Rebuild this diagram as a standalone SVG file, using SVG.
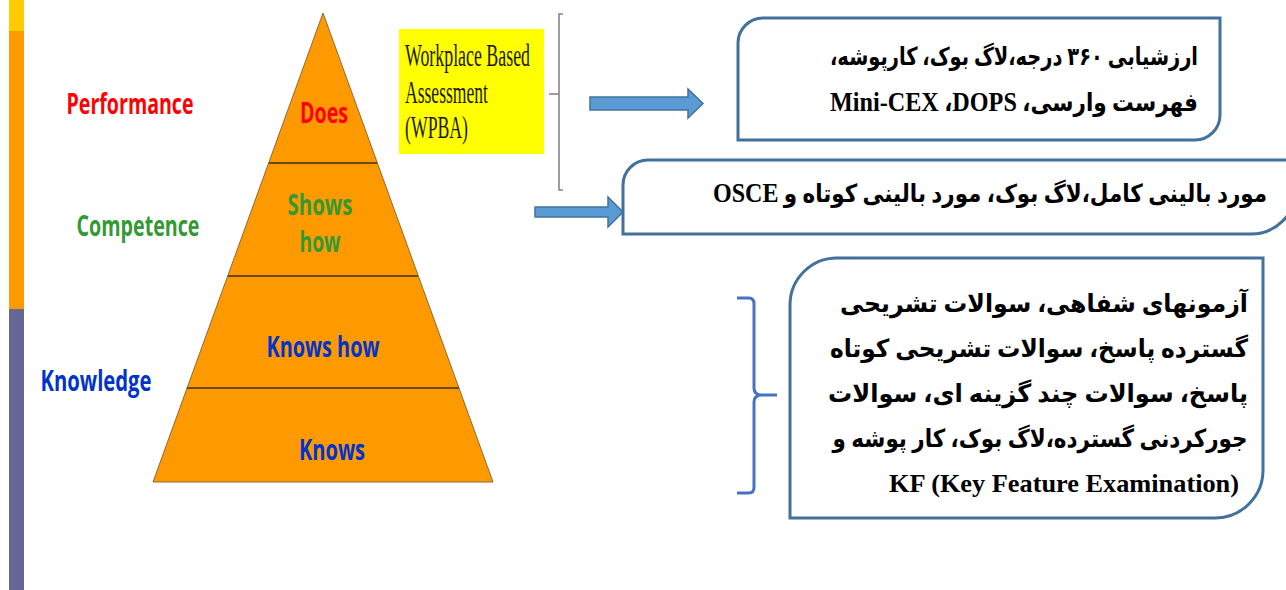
<svg xmlns="http://www.w3.org/2000/svg" width="1286" height="590" viewBox="0 0 1286 590">
<defs>
<style>
.lvl{font-family:"Open Sans","DejaVu Sans",sans-serif;font-weight:700;font-size:28px;text-anchor:middle}
.red{fill:#FF0000}.grn{fill:#339933}.blu{fill:#0033CC}
.wp{font-family:"Liberation Serif","Times New Roman",serif;font-size:31px;fill:#1a1a00}
.fa{font-family:"Liberation Serif","DejaVu Sans",serif;font-weight:700;font-size:25px;fill:#000;direction:rtl;unicode-bidi:embed;text-anchor:middle}
.lat{font-size:28px}
.en{font-family:"Liberation Serif",serif;font-weight:700;font-size:25px;fill:#000;text-anchor:middle}
.box{fill:#fff;stroke:#41719C;stroke-width:3}
.arrow{fill:#5B9BD5;stroke:#41719C;stroke-width:1.5}
.div{stroke:#6b4a10;stroke-width:2}
</style>
</defs>
<rect width="1286" height="590" fill="#fff"/>
<g id="sidebar">
<rect x="9" y="0" width="15" height="31" fill="#FFCC00"/>
<rect x="9" y="31" width="15" height="278" fill="#FF9900"/>
<rect x="9" y="309" width="15" height="281" fill="#666699"/>
</g>
<g id="pyramid">
<polygon points="323,13 493,482 153,482" fill="#FF9900" stroke="#8a6a3a" stroke-width="1"/>
<line class="div" x1="269" y1="163" x2="377" y2="163"/>
<line class="div" x1="228" y1="276" x2="418" y2="276"/>
<line class="div" x1="187" y1="388" x2="459" y2="388"/>
<text class="lvl red" x="324" y="123" textLength="48" lengthAdjust="spacingAndGlyphs">Does</text>
<text class="lvl grn" x="320" y="215" textLength="65" lengthAdjust="spacingAndGlyphs">Shows</text>
<text class="lvl grn" x="320" y="252" textLength="41" lengthAdjust="spacingAndGlyphs">how</text>
<text class="lvl blu" x="323" y="357" textLength="113" lengthAdjust="spacingAndGlyphs">Knows how</text>
<text class="lvl blu" x="332" y="460" textLength="66" lengthAdjust="spacingAndGlyphs">Knows</text>
</g>
<g id="levels">
<text class="lvl red" x="130" y="114" textLength="127" lengthAdjust="spacingAndGlyphs">Performance</text>
<text class="lvl grn" x="138" y="236" textLength="123" lengthAdjust="spacingAndGlyphs">Competence</text>
<text class="lvl blu" x="96" y="391" textLength="111" lengthAdjust="spacingAndGlyphs">Knowledge</text>
</g>
<g id="wpba">
<rect x="399" y="29" width="145" height="125" fill="#FFFF00"/>
<text class="wp" x="405" y="66" textLength="125" lengthAdjust="spacingAndGlyphs">Workplace Based</text>
<text class="wp" x="405" y="103" textLength="83" lengthAdjust="spacingAndGlyphs">Assessment</text>
<text class="wp" x="405" y="138" textLength="63" lengthAdjust="spacingAndGlyphs">(WPBA)</text>
</g>
<g id="connectors">
<path d="M563,14 H559 V190 H563 M549,94 H559" fill="none" stroke="#7f7f7f" stroke-width="1.5"/>
<polygon class="arrow" points="590,97 688,97 688,89 703,103.5 688,118 688,110 590,110"/>
<polygon class="arrow" points="535,207 608,207 608,197 623,212 608,227 608,217 535,217"/>
<path d="M737,298 H749 Q754,298 754,304 V388 Q754,395 762,395 H777 M762,395 Q754,395 754,402 V487 Q754,493 749,493 H737" fill="none" stroke="#4472C4" stroke-width="3"/>
</g>
<g id="box1">
<path class="box" d="M738,43 A25,25 0 0 1 763,18 H1220 V115 A25,25 0 0 1 1195,140 H738 Z"/>
<text class="fa" x="1014" y="65" textLength="368" lengthAdjust="spacingAndGlyphs">ارزشیابی ۳۶۰ درجه،لاگ بوک، کارپوشه،</text>
<text class="fa" x="1014" y="111" textLength="368" lengthAdjust="spacingAndGlyphs">فهرست وارسی، <tspan class="lat">DOPS</tspan>،&#x200F; <tspan class="lat">Mini-CEX</tspan></text>
</g>
<g id="box2">
<path class="box" d="M623,185 A25,25 0 0 1 648,160 H1296 V189 A45,45 0 0 1 1251,234 H623 Z"/>
<text class="fa" x="990" y="202" textLength="554" lengthAdjust="spacingAndGlyphs">مورد بالینی کامل،لاگ بوک، مورد بالینی کوتاه و <tspan class="lat">OSCE</tspan></text>
</g>
<g id="box3">
<path class="box" d="M790,305 A47,47 0 0 1 837,258 H1263 V470 A48,48 0 0 1 1215,518 H790 Z"/>
<text class="fa" x="1044" y="312" textLength="408" lengthAdjust="spacingAndGlyphs">آزمونهای شفاهی، سوالات تشریحی</text>
<text class="fa" x="1039" y="357" textLength="418" lengthAdjust="spacingAndGlyphs">گسترده پاسخ، سوالات تشریحی کوتاه</text>
<text class="fa" x="1038" y="402" textLength="420" lengthAdjust="spacingAndGlyphs">پاسخ، سوالات چند گزینه ای، سوالات</text>
<text class="fa" x="1040" y="447" textLength="415" lengthAdjust="spacingAndGlyphs">جورکردنی گسترده،لاگ بوک، کار پوشه و</text>
<text class="en" x="1064" y="492" textLength="350" lengthAdjust="spacingAndGlyphs">KF (Key Feature Examination)</text>
</g>
</svg>
